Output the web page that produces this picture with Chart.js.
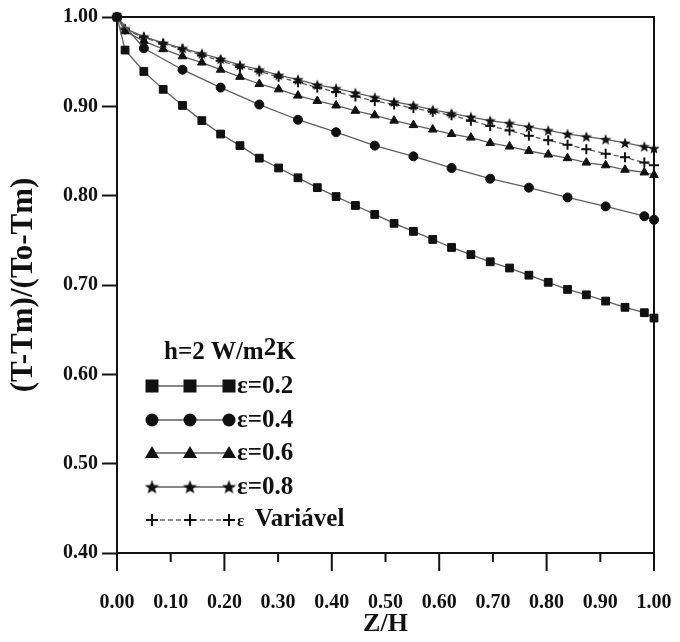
<!DOCTYPE html>
<html>
<head>
<meta charset="utf-8">
<script src="https://cdn.jsdelivr.net/npm/chart.js@4.4.0/dist/chart.umd.min.js"></script>
<style>
  html, body { margin: 0; padding: 0; background: #fff; }
</style>
</head>
<body>
<canvas id="myChart" width="680" height="642"></canvas>
<script>
// Z/H positions of the markers
const zh = [0, 0.015, 0.050, 0.086, 0.122, 0.158, 0.193, 0.229, 0.265, 0.301,
  0.337, 0.373, 0.408, 0.444, 0.480, 0.516, 0.552, 0.588, 0.623, 0.659,
  0.695, 0.731, 0.767, 0.803, 0.839, 0.874, 0.910, 0.946, 0.982, 1.0];
const zhCircle = [0, 0.050, 0.122, 0.193, 0.265, 0.337, 0.408, 0.480, 0.552,
  0.623, 0.695, 0.767, 0.839, 0.910, 0.982, 1.0];

const eps02 = [1.000, 0.963, 0.939, 0.919, 0.901, 0.884, 0.869, 0.856, 0.842, 0.831,
  0.820, 0.809, 0.799, 0.789, 0.779, 0.769, 0.760, 0.751, 0.742, 0.734,
  0.726, 0.719, 0.711, 0.703, 0.695, 0.689, 0.682, 0.675, 0.669, 0.663];
const eps04 = [1.000, 0.965, 0.941, 0.921, 0.902, 0.885, 0.871, 0.856, 0.844,
  0.831, 0.819, 0.809, 0.798, 0.788, 0.777, 0.773];
const eps06 = [1.000, 0.984, 0.973, 0.964, 0.956, 0.949, 0.941, 0.933, 0.925, 0.919,
  0.912, 0.906, 0.901, 0.895, 0.890, 0.884, 0.879, 0.874, 0.869, 0.865,
  0.859, 0.855, 0.850, 0.846, 0.842, 0.837, 0.834, 0.829, 0.826, 0.823];
const eps08 = [1.000, 0.987, 0.978, 0.971, 0.965, 0.959, 0.953, 0.946, 0.941, 0.935,
  0.930, 0.924, 0.920, 0.915, 0.910, 0.905, 0.901, 0.896, 0.892, 0.888,
  0.884, 0.881, 0.877, 0.873, 0.869, 0.866, 0.863, 0.859, 0.855, 0.853];
const epsVar = [1.000, 0.986, 0.977, 0.970, 0.964, 0.957, 0.951, 0.944, 0.939, 0.933,
  0.927, 0.921, 0.916, 0.911, 0.906, 0.902, 0.898, 0.894, 0.890, 0.884,
  0.878, 0.873, 0.867, 0.862, 0.857, 0.852, 0.847, 0.843, 0.837, 0.834];

const seriesLabels = ["ε=0.2", "ε=0.4", "ε=0.6", "ε=0.8", "ε Variável"];

const ink = "#111111";
const lineGrey = "#5e5e5e";
const serif = "'Liberation Serif', 'Times New Roman', serif";

// filled five point star used as a point style
function makeStar(size) {
  const c = document.createElement("canvas");
  c.width = size; c.height = size;
  const g = c.getContext("2d");
  const cx = size / 2, cy = size / 2 + 0.5, ro = size / 2, ri = ro * 0.42;
  g.beginPath();
  for (let i = 0; i < 10; i++) {
    const r = i % 2 ? ri : ro;
    const a = -Math.PI / 2 + i * Math.PI / 5;
    g.lineTo(cx + r * Math.cos(a), cy + r * Math.sin(a));
  }
  g.closePath();
  g.fillStyle = ink;
  g.fill();
  return c;
}
const starImg = makeStar(12);
const starBig = makeStar(15);

function pts(xs, ys) {
  return xs.map((x, i) => ({ x: x, y: ys[i] }));
}

function series(label, xs, ys, style, radius, dash) {
  return {
    label: label,
    data: pts(xs, ys),
    borderColor: lineGrey,
    borderWidth: 1.3,
    borderDash: dash || [],
    backgroundColor: ink,
    pointBackgroundColor: ink,
    pointBorderColor: ink,
    pointBorderWidth: style === "cross" ? 2 : 1,
    pointStyle: style,
    pointRadius: radius,
    tension: 0,
    clip: false,
  };
}

const data = {
  datasets: [
    series(seriesLabels[0], zh, eps02, "rect", 5.5),
    series(seriesLabels[1], zhCircle, eps04, "circle", 4.5),
    series(seriesLabels[2], zh, eps06, "triangle", 5),
    series(seriesLabels[3], zh, eps08, starImg, 6),
    series(seriesLabels[4], zh, epsVar, "cross", 5, [5, 3]),
  ],
};

// frame, minor/major x ticks and the hand-placed legend box
const framePlugin = {
  id: "frame",
  afterDraw(chart) {
    const ctx = chart.ctx;
    const a = chart.chartArea;
    const xs = chart.scales.x;
    ctx.save();
    ctx.strokeStyle = ink;
    ctx.lineWidth = 2;
    ctx.strokeRect(a.left, a.top, a.right - a.left, a.bottom - a.top);
    xs.ticks.forEach((t, i) => {
      const px = xs.getPixelForValue(t.value);
      ctx.beginPath();
      ctx.moveTo(px, a.bottom);
      ctx.lineTo(px, a.bottom + (i % 2 === 0 ? 18 : 9));
      ctx.stroke();
    });

    // legend
    const mx = [152, 190, 229];
    const rows = [386, 420, 453, 487, 520];
    ctx.fillStyle = ink;
    ctx.textBaseline = "middle";
    ctx.font = "bold 25px " + serif;
    ctx.textAlign = "left";
    let tx = 164;
    const t1 = "h=2 W/m";
    ctx.fillText(t1, tx, 353);
    tx += ctx.measureText(t1).width;
    ctx.fillText("2", tx, 349);
    tx += ctx.measureText("2").width;
    ctx.fillText("K", tx, 353);

    rows.forEach((ry, k) => {
      ctx.strokeStyle = lineGrey;
      ctx.lineWidth = 1.3;
      ctx.setLineDash(k === 4 ? [5, 3] : []);
      ctx.beginPath();
      ctx.moveTo(mx[0], ry);
      ctx.lineTo(mx[2], ry);
      ctx.stroke();
      ctx.setLineDash([]);
      mx.forEach((x) => {
        ctx.fillStyle = ink;
        ctx.strokeStyle = ink;
        ctx.beginPath();
        if (k === 0) {
          ctx.fillRect(x - 6.5, ry - 6.5, 13, 13);
        } else if (k === 1) {
          ctx.arc(x, ry, 6.5, 0, Math.PI * 2);
          ctx.fill();
        } else if (k === 2) {
          ctx.moveTo(x, ry - 7);
          ctx.lineTo(x + 7, ry + 5);
          ctx.lineTo(x - 7, ry + 5);
          ctx.closePath();
          ctx.fill();
        } else if (k === 3) {
          ctx.drawImage(starBig, x - 7.5, ry - 7.5);
        } else {
          ctx.lineWidth = 2;
          ctx.moveTo(x - 6, ry); ctx.lineTo(x + 6, ry);
          ctx.moveTo(x, ry - 6); ctx.lineTo(x, ry + 6);
          ctx.stroke();
        }
      });
      ctx.fillStyle = ink;
      if (k < 4) {
        ctx.font = "bold 25px " + serif;
        ctx.fillText(seriesLabels[k], 237, ry + 1);
      } else {
        ctx.font = "bold 17px " + serif;
        ctx.fillText("ε", 237, ry + 2);
        ctx.font = "bold 25px " + serif;
        ctx.fillText("Variável", 255, ry);
      }
    });
    ctx.restore();
  },
};

const config = {
  type: "line",
  data: data,
  options: {
    responsive: false,
    animation: false,
    layout: { padding: { top: 17, right: 26, left: 0, bottom: 0 } },
    plugins: { legend: { display: false }, tooltip: { enabled: false } },
    scales: {
      x: {
        type: "linear",
        min: 0,
        max: 1,
        afterFit: (s) => { s.height = 89; s.paddingLeft = 0; s.paddingRight = 0; },
        ticks: {
          stepSize: 0.1,
          padding: 30,
          color: ink,
          font: { family: serif, size: 20, weight: "bold" },
          callback: (v) => v.toFixed(2),
          maxRotation: 0,
        },
        grid: { display: false },
        border: { display: true, color: ink, width: 2 },
        title: {
          display: true,
          text: "Z/H",
          color: ink,
          font: { family: serif, size: 26, weight: "bold" },
          padding: { bottom: 2, top: 0 },
        },
      },
      y: {
        min: 0.4,
        max: 1.0,
        afterFit: (s) => { s.width = 117; },
        ticks: {
          stepSize: 0.1,
          padding: 4,
          color: ink,
          font: { family: serif, size: 20, weight: "bold" },
          callback: (v) => v.toFixed(2),
        },
        grid: {
          drawOnChartArea: false,
          drawTicks: true,
          tickLength: 15,
          tickColor: ink,
          tickWidth: 2,
        },
        border: { display: true, color: ink, width: 2 },
        title: {
          display: true,
          text: "(T-Tm)/(To-Tm)",
          color: ink,
          font: { family: serif, size: 31, weight: "bold" },
          padding: { top: 5, bottom: 0 },
        },
      },
    },
  },
  plugins: [framePlugin],
};

var myChart = new Chart(document.getElementById("myChart"), config);
</script>
</body>
</html>
